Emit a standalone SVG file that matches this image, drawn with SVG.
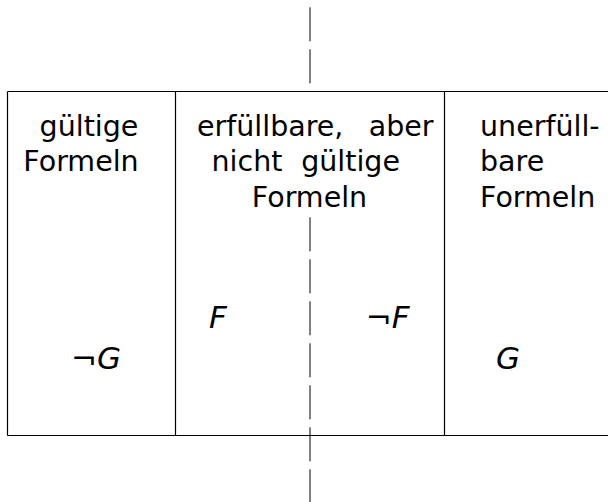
<svg xmlns="http://www.w3.org/2000/svg" width="608" height="502" viewBox="0 0 608 502">
  <style>
    .txt { font-family: "DejaVu Sans", "Liberation Sans", sans-serif; font-size: 28.5px; fill: #000; }
    .math { font-family: "DejaVu Sans", "Liberation Sans", sans-serif; font-style: italic; font-size: 31px; fill: #000; }
    .frame { stroke: #000; stroke-width: 1.2; fill: none; }
    .dash { stroke: #000; stroke-width: 1; stroke-dasharray: 34 8; fill: none; }
  </style>
  <rect x="0" y="0" width="608" height="502" fill="#fff"/>
  <g id="connectors">
    <line class="dash" x1="310" y1="7.3" x2="310" y2="83.3"/>
    <line class="dash" x1="310" y1="217.3" x2="310" y2="502"/>
  </g>
  <g id="frame">
    <line class="frame" x1="7.5" y1="91.5" x2="608" y2="91.5"/>
    <line class="frame" x1="7.5" y1="435.5" x2="608" y2="435.5"/>
    <line class="frame" x1="7.5" y1="91.5" x2="7.5" y2="435.5"/>
    <line class="frame" x1="175.5" y1="91.5" x2="175.5" y2="435.5"/>
    <line class="frame" x1="444.5" y1="91.5" x2="444.5" y2="435.5"/>
  </g>
  <g id="valid">
    <text class="txt" x="89" y="135.5" text-anchor="middle">gültige</text>
    <text class="txt" x="81" y="171" text-anchor="middle">Formeln</text>
    <text class="math" x="121" y="369" text-anchor="end">¬G</text>
  </g>
  <g id="satisfiable">
    <text class="txt" y="135.5"><tspan x="197">erfüllbare,</tspan><tspan x="433.5" text-anchor="end">aber</tspan></text>
    <text class="txt" y="171"><tspan x="211.5">nicht</tspan><tspan x="400" text-anchor="end">gültige</tspan></text>
    <text class="txt" x="309.5" y="206.5" text-anchor="middle">Formeln</text>
    <text class="math" x="209" y="327.7">F</text>
    <text class="math" x="409.5" y="327.7" text-anchor="end">¬F</text>
  </g>
  <g id="unsatisfiable">
    <text class="txt" x="480" y="135.5">unerfüll-</text>
    <text class="txt" x="480" y="171">bare</text>
    <text class="txt" x="480" y="206.5">Formeln</text>
    <text class="math" x="496" y="369">G</text>
  </g>
</svg>
